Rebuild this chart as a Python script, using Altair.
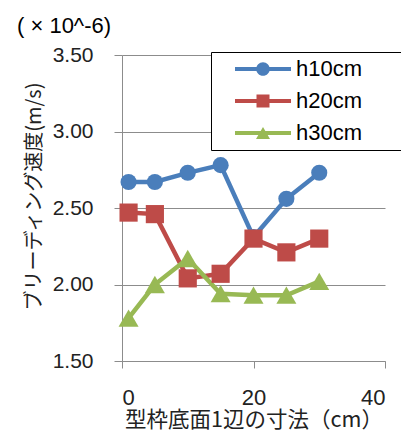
import altair as alt
import pandas as pd

# Formwork base edge length (cm) and bleeding speed (x10^-6 m/s) per casting height
sizes = [1, 5, 10, 15, 20, 25, 30]
h10 = [2.67, 2.67, 2.73, 2.78, 2.31, 2.56, 2.73]
h20 = [2.47, 2.46, 2.04, 2.07, 2.30, 2.21, 2.30]
h30 = [1.78, 2.00, 2.17, 1.94, 1.93, 1.93, 2.02]
series = ["h10cm", "h20cm", "h30cm"]
colors = ["#4A7EBB", "#BE4B48", "#98B954"]
y_ticks = [1.5, 2.0, 2.5, 3.0, 3.5]
x_ticks = [0, 20, 40]

rows = []
for name, vals in zip(series, [h10, h20, h30]):
    for x, v in zip(sizes, vals):
        rows.append({"size": x, "speed": v, "series": name})
df = pd.DataFrame(rows)

LATIN = "Liberation Sans"
CJK = "Noto Sans CJK JP"
GRID = "#8c8c8c"

# legend keys: a line segment with the series marker on top; the path runs
# past the unit square so the key stays one marker tall in the legend layout
bar = "M-2.8,-0.2 L2.8,-0.2 L2.8,0.2 L-2.8,0.2 Z "
key_paths = [
    bar + "M-0.68,0 A0.68,0.68 0 1,1 0.68,0 A0.68,0.68 0 1,1 -0.68,0 Z",
    bar + "M-0.65,-0.65 L0.65,-0.65 L0.65,0.65 L-0.65,0.65 Z",
    bar + "M0,-0.6 L0.7,0.6 L-0.7,0.6 Z",
]

x_enc = alt.X(
    "size:Q",
    scale=alt.Scale(domain=[0, 40], nice=False),
    axis=alt.Axis(
        values=x_ticks, grid=False, title="型枠底面1辺の寸法（cm）",
        domainColor=GRID, tickColor=GRID, tickSize=7,
        labelFont=LATIN, labelFontSize=22, labelColor="#222222", labelPadding=19,
        titleFont=CJK, titleFontSize=21.5, titleFontWeight="normal",
        titleColor="#222222", titlePadding=1,
    ),
)
y_enc = alt.Y(
    "speed:Q",
    scale=alt.Scale(domain=[1.5, 3.5], nice=False),
    axis=alt.Axis(
        values=y_ticks, format=".2f", grid=True, gridColor=GRID,
        domainColor=GRID, tickColor=GRID, tickSize=8,
        labelFont=LATIN, labelFontSize=21, labelColor="#222222", labelPadding=21,
        title="ブリーディング速度(m/s)", titleFont=CJK, titleFontSize=20,
        titleFontWeight="normal", titleColor="#222222",
        titleAngle=270, titleAlign="center", titleBaseline="middle",
        titleX=-88, titleY=141,
    ),
)


def color_enc(legend=None):
    return alt.Color("series:N", scale=alt.Scale(domain=series, range=colors),
                     legend=legend)


base = alt.Chart(df)

lines = base.mark_line(strokeWidth=4.5).encode(
    x=x_enc, y=y_enc, color=color_enc(), order="size:Q"
)

points = base.mark_point(filled=True, opacity=1).encode(
    x=x_enc, y=y_enc, color=color_enc(),
    shape=alt.Shape("series:N", legend=None,
                    scale=alt.Scale(domain=series,
                                    range=["circle", "square", "triangle-up"])),
    size=alt.Size("series:N", legend=None,
                  scale=alt.Scale(domain=series, range=[260, 400, 400])),
)

# blank braille cells widen the key box on the right without visible ink
legend = alt.Legend(
    title=None, orient="none", legendX=89, legendY=-3,
    padding=6, symbolOffset=35, labelOffset=22, rowPadding=10,
    strokeColor="#000000", fillColor="white",
    labelFont=LATIN, labelFontSize=22, labelColor="#000000",
    labelExpr="datum.label + '\u2800\u2800'",
    symbolSize=400, symbolStrokeWidth=0, symbolOpacity=1,
)

keys = base.transform_filter("false").mark_point(
    filled=True, opacity=1, size=400
).encode(
    x=x_enc, y=y_enc, color=color_enc(legend),
    shape=alt.Shape("series:N", legend=legend,
                    scale=alt.Scale(domain=series, range=key_paths)),
)

chart = (
    alt.layer(lines, points, keys)
    .resolve_scale(color="independent", shape="independent", size="independent")
    .properties(
        width=263, height=306,
        autosize=alt.AutoSizeParams(type="none"),
        padding={"left": 122, "top": 55, "right": 16, "bottom": 69},
        background="white",
        title=alt.TitleParams("( × 10^-6)", anchor="start", frame="group",
                              dx=-105, font=LATIN, fontSize=22,
                              fontWeight="normal", color="#000000", offset=6),
    )
    .configure_view(stroke=None)
)

chart.save("out.html", embed_options={"renderer": "svg", "actions": False})
